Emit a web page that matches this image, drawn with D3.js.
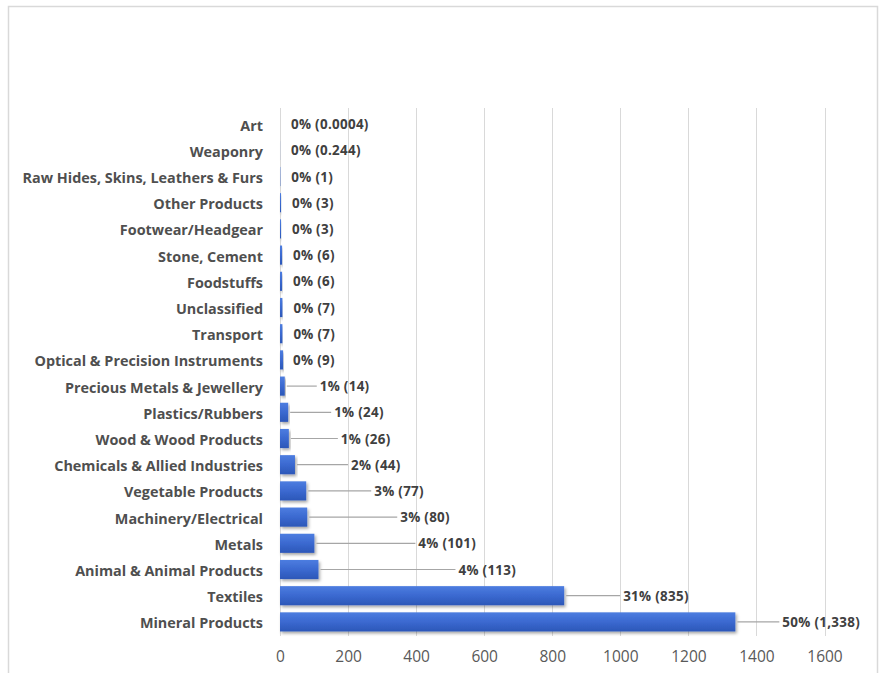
<!DOCTYPE html>
<html><head><meta charset="utf-8">
<script src="https://cdn.jsdelivr.net/npm/d3@7"></script>
<style>body{margin:0;background:#fff}svg{display:block}</style>
</head><body>
<svg id="c" width="882" height="673"></svg>
<script>
const categories = ["Art","Weaponry","Raw Hides, Skins, Leathers & Furs","Other Products","Footwear/Headgear","Stone, Cement","Foodstuffs","Unclassified","Transport","Optical & Precision Instruments","Precious Metals & Jewellery","Plastics/Rubbers","Wood & Wood Products","Chemicals & Allied Industries","Vegetable Products","Machinery/Electrical","Metals","Animal & Animal Products","Textiles","Mineral Products"];
const values = [0.0004,0.244,1,3,3,6,6,7,7,9,14,24,26,44,77,80,101,113,835,1338];
const valueLabels = ["0.0004","0.244","1","3","3","6","6","7","7","9","14","24","26","44","77","80","101","113","835","1,338"];
const percents = [0,0,0,0,0,0,0,0,0,0,1,1,1,2,3,3,4,4,31,50];
const xTicks = [0,200,400,600,800,1000,1200,1400,1600];
// layout: gap in px between bar end and its data callout
const labelGap = [11,11,11,11,11,11,11,11,11,10,35,46,52,56,68,93,104,140,59,47];

const svg = d3.select("#c");
const defs = svg.append("defs");
const g1 = defs.append("linearGradient").attr("id","bg").attr("x1",0).attr("y1",0).attr("x2",0).attr("y2",1);
g1.append("stop").attr("offset","0%").attr("stop-color","#4d7de0");
g1.append("stop").attr("offset","50%").attr("stop-color","#3b69d0");
g1.append("stop").attr("offset","100%").attr("stop-color","#2c57b8");
const f = defs.append("filter").attr("id","sh").attr("x","-10%").attr("y","-30%").attr("width","130%").attr("height","180%");
f.append("feDropShadow").attr("dx",1.5).attr("dy",2).attr("stdDeviation",1.5).attr("flood-color","#000").attr("flood-opacity",0.35);

svg.append("rect").attr("x",8.5).attr("y",6.5).attr("width",869).attr("height",680)
  .attr("fill","#fff").attr("stroke","#d9d9d9").attr("stroke-width",1.5);

const x = d3.scaleLinear().domain([0,1600]).range([280,824.5]);
const y = d3.scaleBand().domain(categories).range([111,635]).paddingInner(0.27).paddingOuter(0.135);

// gridlines
svg.append("g").selectAll("line").data(xTicks).join("line")
  .attr("x1",d=>Math.round(x(d))+0.5).attr("x2",d=>Math.round(x(d))+0.5)
  .attr("y1",108).attr("y2",636).attr("stroke","#d9d9d9").attr("stroke-width",1);

// x axis labels
const xAxis = d3.axisBottom(x).tickValues(xTicks).tickSize(0).tickPadding(0).tickFormat(d3.format("d"));
const ax = svg.append("g").attr("transform","translate(0,651)").call(xAxis);
ax.select(".domain").remove();
ax.selectAll("text").attr("fill","#595959").style("font-family","'Open Sans', sans-serif").style("font-size","15.5px").attr("dy","0.71em");

// y axis labels
const yAxis = d3.axisLeft(y).tickSize(0).tickPadding(0);
const ay = svg.append("g").attr("transform","translate(263,0)").call(yAxis);
ay.select(".domain").remove();
ay.selectAll("text").attr("fill","#4f4f4f").attr("dy","0.45em").style("font-family","'Open Sans', sans-serif").style("font-weight","700").style("font-size","14.4px");

const data = categories.map((c,i)=>({c, v:values[i], lab:valueLabels[i], p:percents[i], gap:labelGap[i]}));

// bars
svg.append("g").selectAll("rect").data(data).join("rect")
  .attr("x",x(0)).attr("y",d=>y(d.c)).attr("width",d=>Math.max(0,x(d.v)-x(0)))
  .attr("height",y.bandwidth()).attr("fill","url(#bg)").attr("filter","url(#sh)");

// leader lines
svg.append("g").selectAll("line").data(data.filter(d=>d.gap>20)).join("line")
  .attr("x1",d=>x(d.v)+2).attr("x2",d=>x(d.v)+d.gap-3)
  .attr("y1",d=>y(d.c)+y.bandwidth()/2).attr("y2",d=>y(d.c)+y.bandwidth()/2)
  .attr("stroke","#a6a6a6").attr("stroke-width",1.2);

// data labels
svg.append("g").selectAll("text").data(data).join("text")
  .attr("x",d=>x(d.v)+d.gap).attr("y",d=>y(d.c)+y.bandwidth()/2).attr("dy","0.38em")
  .attr("fill","#404040").style("font-family","'Open Sans', sans-serif").style("font-weight","700").style("font-size","13.4px")
  .style("letter-spacing","0.3px")
  .text(d=>`${d.p}% (${d.lab})`);
</script>
</body></html>
